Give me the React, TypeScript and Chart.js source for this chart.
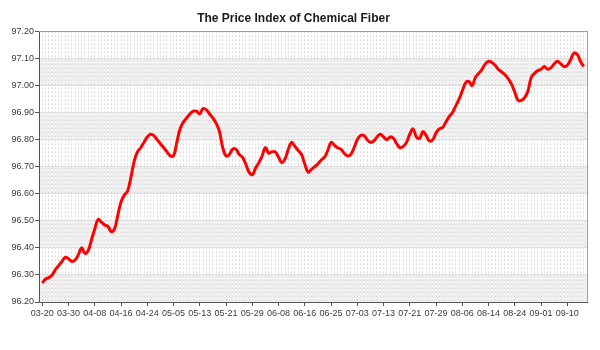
import { useEffect, useRef } from 'react';
import { Chart, registerables } from 'chart.js';

Chart.register(...registerables);

const TITLE = 'The Price Index of Chemical Fiber';

// x-axis labels, one every LABEL_EVERY observations
const tickLabels = [
  '03-20', '03-30', '04-08', '04-16', '04-24', '05-05', '05-13', '05-21', '05-29', '06-08', '06-16',
  '06-25', '07-03', '07-13', '07-21', '07-29', '08-06', '08-14', '08-24', '09-01', '09-10',
];
const LABEL_EVERY = 8;

// y axis range
const yMin = 96.2;
const yMax = 97.2;
const yStep = 0.1;

const values = [
  96.27, 96.285, 96.29, 96.3, 96.32, 96.335, 96.35, 96.365, 96.36, 96.35,
  96.355, 96.375, 96.4, 96.38, 96.39, 96.43, 96.47, 96.505, 96.495, 96.485,
  96.48, 96.46, 96.47, 96.52, 96.57, 96.595, 96.61, 96.66, 96.72, 96.755,
  96.77, 96.79, 96.81, 96.82, 96.815, 96.8, 96.785, 96.77, 96.755, 96.74,
  96.74, 96.79, 96.84, 96.865, 96.88, 96.895, 96.905, 96.905, 96.895, 96.915,
  96.91, 96.895, 96.88, 96.86, 96.83, 96.77, 96.74, 96.745, 96.765, 96.765,
  96.745, 96.735, 96.71, 96.68, 96.67, 96.695, 96.715, 96.74, 96.77, 96.75,
  96.755, 96.755, 96.735, 96.715, 96.73, 96.765, 96.79, 96.775, 96.76, 96.745,
  96.71, 96.68, 96.69, 96.7, 96.71, 96.725, 96.735, 96.76, 96.79, 96.78,
  96.77, 96.765, 96.75, 96.74, 96.745, 96.77, 96.8, 96.815, 96.815, 96.8,
  96.79, 96.795, 96.81, 96.82, 96.81, 96.8, 96.81, 96.805, 96.785, 96.77,
  96.775, 96.79, 96.82, 96.84, 96.81, 96.805, 96.83, 96.815, 96.795, 96.8,
  96.825, 96.84, 96.845, 96.865, 96.885, 96.9, 96.925, 96.95, 96.98, 97.01,
  97.015, 97.0, 97.03, 97.045, 97.06, 97.08, 97.09, 97.085, 97.075, 97.06,
  97.05, 97.04, 97.025, 97.005, 96.975, 96.945, 96.945, 96.955, 96.98, 97.03,
  97.045, 97.055, 97.06, 97.07, 97.06, 97.065, 97.08, 97.09, 97.08, 97.07,
  97.075, 97.095, 97.12, 97.115, 97.09, 97.07,
];

const FONT = "'Liberation Sans', Arial, sans-serif";

const isLabelIndex = (v: number) =>
  v >= 0 && v % LABEL_EVERY === 0 && v / LABEL_EVERY < tickLabels.length;

// same pixel alignment Chart.js uses for 1px grid lines
const align = (p: number) => Math.round(p - 0.5) + 0.5;

const bandsPlugin = {
  id: 'bands',
  beforeDraw(chart: any) {
    const { ctx, chartArea, scales } = chart;
    const y = scales.y;
    const x = scales.x;
    const { left, right } = chartArea;
    ctx.save();
    ctx.fillStyle = '#ffffff';
    ctx.fillRect(0, 0, chart.width, chart.height);
    const t = y.ticks;
    for (let i = 0; i < t.length - 1; i++) {
      if (i % 2 !== 0) continue;
      const y1 = y.getPixelForValue(t[i].value);
      const y2 = y.getPixelForValue(t[i + 1].value);
      ctx.fillStyle = '#efefef';
      ctx.fillRect(left, y2, right - left, y1 - y2);
      // white under-stroke so the dashed grid shows white gaps on the band
      ctx.strokeStyle = '#ffffff';
      ctx.lineWidth = 1;
      ctx.beginPath();
      for (const tk of x.ticks) {
        const px = align(x.getPixelForValue(tk.value));
        if (px <= left + 1 || px >= right - 1) continue;
        ctx.moveTo(px, y2);
        ctx.lineTo(px, y1);
      }
      ctx.stroke();
    }
    ctx.restore();
  },
  beforeDatasetsDraw(chart: any) {
    const { ctx, chartArea } = chart;
    const { left, right, top, bottom } = chartArea;
    ctx.save();
    ctx.strokeStyle = '#a0a0a0';
    ctx.lineWidth = 1;
    ctx.beginPath();
    ctx.moveTo(left, align(top));
    ctx.lineTo(align(right), align(top));
    ctx.lineTo(align(right), bottom);
    ctx.stroke();
    ctx.restore();
  },
};

export default function App() {
  const ref = useRef<HTMLCanvasElement>(null);
  useEffect(() => {
    if (!ref.current) return;
    const chart = new Chart(ref.current, {
      type: 'line',
      data: {
        datasets: [
          {
            label: 'Price Index',
            data: values.map((v, i) => ({ x: i, y: v })),
            borderColor: '#ff0000',
            borderWidth: 3,
            pointRadius: 0,
            tension: 0.4,
            fill: false,
          },
        ],
      },
      options: {
        animation: false,
        responsive: true,
        maintainAspectRatio: false,
        layout: { padding: { top: 0, right: 13, bottom: 0, left: 0 } },
        plugins: {
          legend: { display: false },
          tooltip: { enabled: false },
          title: {
            display: true,
            text: TITLE,
            color: '#1a1a1a',
            font: { family: FONT, size: 12, weight: 'bold' },
            padding: { top: 11, bottom: 6 },
          },
        },
        scales: {
          x: {
            type: 'linear',
            min: -1,
            max: values.length,
            afterFit: (s: any) => {
              s.height = 48;
            },
            ticks: {
              stepSize: 1,
              autoSkip: false,
              maxRotation: 0,
              minRotation: 0,
              padding: 2,
              color: '#3a3a3a',
              font: { family: FONT, size: 9 },
              callback: (v: any) => (isLabelIndex(v) ? tickLabels[v / LABEL_EVERY] : ''),
            },
            grid: {
              color: '#d9d9d9',
              lineWidth: 1,
              tickLength: 4,
              tickColor: (ctx: any) =>
                ctx.tick && isLabelIndex(ctx.tick.value) ? '#555' : 'rgba(0,0,0,0)',
            },
            border: { display: true, color: '#555', width: 1, dash: [2, 2] },
          },
          y: {
            min: yMin,
            max: yMax,
            afterFit: (s: any) => {
              s.width = 39;
            },
            ticks: {
              stepSize: yStep,
              padding: 1,
              color: '#3a3a3a',
              font: { family: FONT, size: 9 },
              callback: (v: any) => Number(v).toFixed(2),
            },
            grid: {
              color: '#dedede',
              lineWidth: 1,
              tickLength: 4,
              tickColor: '#555',
            },
            border: { display: true, color: '#555', width: 1 },
          },
        },
      },
      plugins: [bandsPlugin],
    });
    return () => chart.destroy();
  }, []);
  return (
    <div style={{ position: 'fixed', left: 0, top: 0, width: 600, height: 350, background: '#fff' }}>
      <canvas ref={ref} />
    </div>
  );
}
